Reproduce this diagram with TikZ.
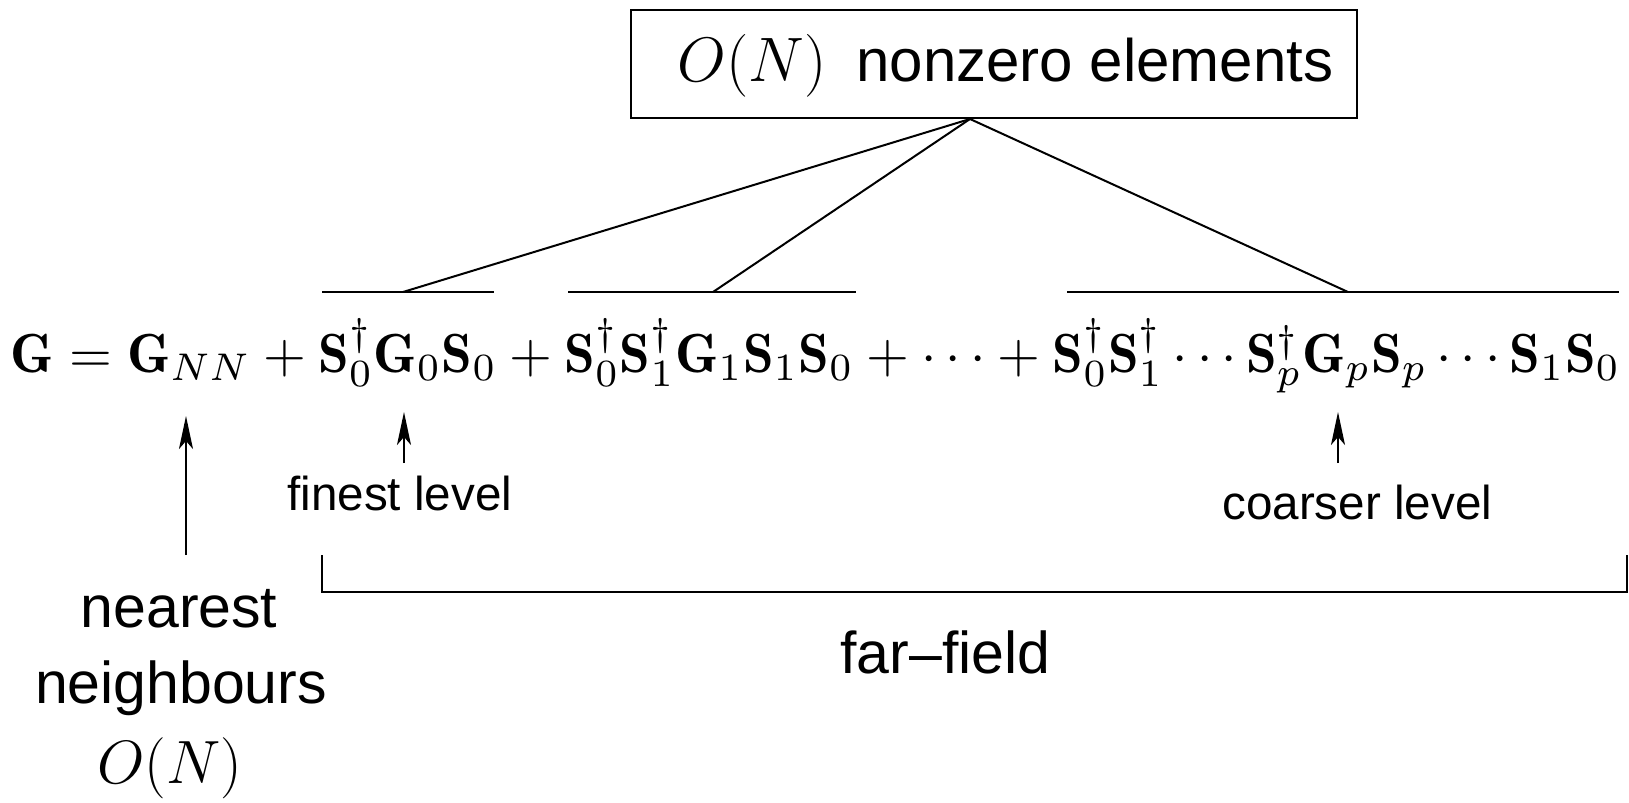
\documentclass[tikz,border=0pt]{standalone}
\usepackage{fontspec}
\usepackage{graphicx}
\newfontfamily\helv[Ligatures=TeX]{Liberation Sans}
\usetikzlibrary{arrows.meta,calc}
\begin{document}
\begin{tikzpicture}[x=0.5pt,y=-0.5pt,
  ln/.style={line width=1pt},
  arr/.style={line width=1pt,-{Stealth[length=16.5pt,width=7pt,inset=4pt]}},
  lbig/.style={inner sep=0pt,font=\helv\fontsize{29.5}{36}\selectfont},
  lsmall/.style={inner sep=0pt,font=\helv\fontsize{23.8}{28}\selectfont}]
\useasboundingbox (0,0) rectangle (1629,803);
% top box
\node[draw,ln,minimum width=363pt,minimum height=54pt,inner sep=0pt] (box) at (994,64) {};
\node[anchor=base west,inner sep=0pt,font=\helv\fontsize{30}{36}\selectfont] (boxtxt) at (677,81)
  {\resizebox{74.5pt}{!}{$O(N)$}\hspace{15pt}nonzero elements};
\coordinate (apex) at ($(box.south)+(-24,0)$);
% equation
\node[anchor=base west,inner sep=0pt] (eq) at (10,372) {\resizebox{805pt}{!}{$\mathbf{G} = \mathbf{G}_{NN} + \mathbf{S}_0^\dagger \mathbf{G}_0 \mathbf{S}_0 + \mathbf{S}_0^\dagger \mathbf{S}_1^\dagger \mathbf{G}_1 \mathbf{S}_1 \mathbf{S}_0 + \cdots + \mathbf{S}_0^\dagger \mathbf{S}_1^\dagger \cdots \mathbf{S}_p^\dagger \mathbf{G}_p \mathbf{S}_p \cdots \mathbf{S}_1 \mathbf{S}_0$}};
% overbars
\coordinate (b1l) at (322,292); \coordinate (b1r) at (494,292); \coordinate (b1m) at (403,292);
\coordinate (b2l) at (568,292); \coordinate (b2r) at (856,292); \coordinate (b2m) at (713,292);
\coordinate (b3l) at (1067,292); \coordinate (b3r) at (1619,292); \coordinate (b3m) at (1348,292);
\draw[ln] (b1l) -- (b1r);
\draw[ln] (b2l) -- (b2r);
\draw[ln] (b3l) -- (b3r);
\draw[ln] (apex) -- (b1m);
\draw[ln] (apex) -- (b2m);
\draw[ln] (apex) -- (b3m);
% labels
\node[lsmall,anchor=base west] (finest) at (287,510) {finest level};
\node[lsmall,anchor=base west] (coarser) at (1222,519) {coarser level};
\node[lbig,anchor=base] (nn1) at (179,627) {nearest};
\node[lbig,anchor=base] (nn2) at (181,703) {neighbours};
\node[lbig,anchor=base] (nn3) at (170,783) {\resizebox{72.5pt}{!}{$O(N)$}};
\node[lbig,anchor=base west] (far) at (840,673) {far--field};
% arrows
\coordinate (a1s) at (186,555); \coordinate (a1e) at (186,416);
\coordinate (a2s) at (404,463); \coordinate (a2e) at (404,412);
\coordinate (a3s) at (1338,463); \coordinate (a3e) at (1338,412);
\draw[arr] (a1s) -- (a1e);
\draw[arr] (a2s) -- (a2e);
\draw[arr] (a3s) -- (a3e);
% far-field bracket
\coordinate (brl) at (322,555); \coordinate (brr) at (1627,555);
\draw[ln] (brl) -- (brl |- 0,592) -- (brr |- 0,592) -- (brr);
\end{tikzpicture}
\end{document}
